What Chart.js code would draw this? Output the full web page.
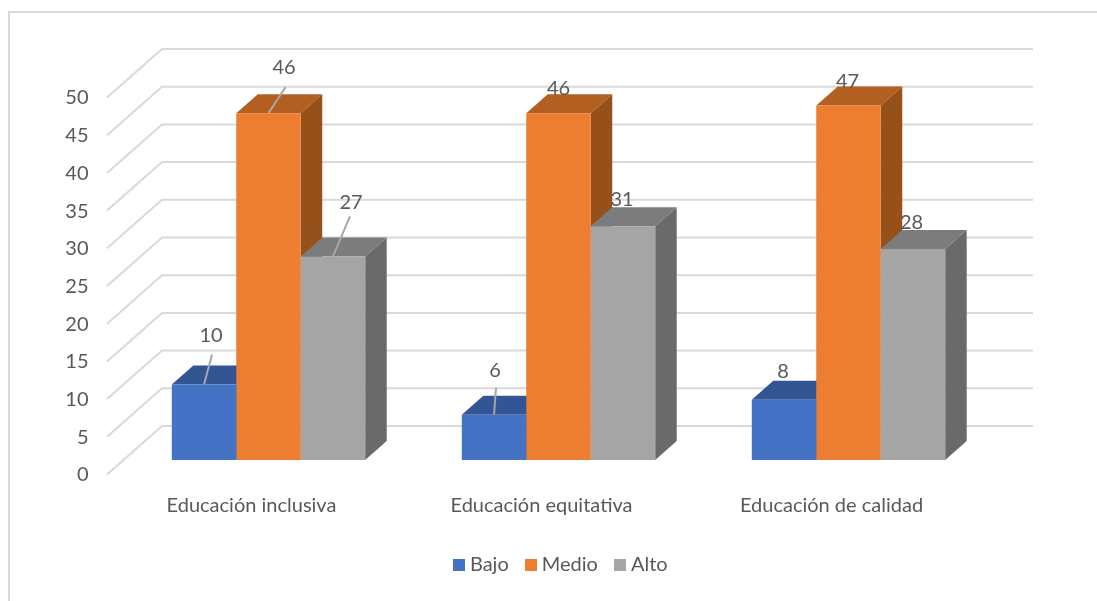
<!DOCTYPE html>
<html lang="es">
<head>
<meta charset="utf-8">
<title>Educación</title>
<script src="https://cdn.jsdelivr.net/npm/chart.js@4/dist/chart.umd.min.js"></script>
<style>
  html, body { margin: 0; padding: 0; background: #fff; }
  canvas { display: block; }
</style>
</head>
<body>
<canvas id="myChart" width="1097" height="601"></canvas>
<script>
// datos
var categorias = ['Educación inclusiva', 'Educación equitativa', 'Educación de calidad'];
var bajo = [10, 6, 8];
var medio = [46, 46, 47];
var alto = [27, 31, 28];

// colores: frente, tapa, lado
var colBajo = ['#4472C4', '#335594', '#2C4A80'];
var colMedio = ['#ED7D31', '#B45F22', '#965019'];
var colAlto = ['#A5A5A5', '#7C7C7C', '#6A6A6A'];

// posicion de las etiquetas respecto al centro de la cara superior [dx, dy]
var etiquetasBajo = [[7, -49], [1, -44], [-1, -28]];
var etiquetasMedio = [[15.5, -46], [0, -25], [-1, -24]];
var etiquetasAlto = [[18, -54], [-1, -27], [-1.5, -26]];

// lineas guia [dx, dy] (null = sin linea)
var guiasBajo = [[8, -30], [2, -27], null];
var guiasMedio = [[17, -26], null, null];
var guiasAlto = [[17, -40], null, null];

var FONDO_X = 21.5, FONDO_Y = 19;
var GRIS = '#595959';
var FUENTE = 'Lato';

// cuadradito de la leyenda, asi el texto queda pegado como en el original
function cuadrito(color) {
    var cv = document.createElement('canvas');
    cv.width = 12;
    cv.height = 12;
    var g = cv.getContext('2d');
    g.fillStyle = color;
    g.fillRect(0, 0, 12, 12);
    return cv;
}

var caja3d = {
    id: 'caja3d',
    afterLayout: function (chart) {
        // la leyenda va a la derecha del centro
        chart.legend.left += 66.5;
        chart.legend.right += 66.5;
    },
    beforeDraw: function (chart) {
        var c = chart.ctx;
        c.save();
        c.strokeStyle = '#D9D9D9';
        c.lineWidth = 2;
        c.beginPath();
        c.moveTo(9, chart.height);
        c.lineTo(9, 12);
        c.lineTo(chart.width, 12);
        c.stroke();
        c.restore();
    },
    beforeDatasetsDraw: function (chart) {
        var c = chart.ctx, area = chart.chartArea, y = chart.scales.y;
        c.save();
        // pared y suelo
        c.strokeStyle = '#D9D9D9';
        c.lineWidth = 2;
        y.ticks.forEach(function (t) {
            var py = y.getPixelForValue(t.value);
            c.beginPath();
            c.moveTo(area.left - 16.5, py + 14.5);
            c.lineTo(area.left + 38.5, py - 34);
            c.lineTo(area.right + 39.5, py - 34);
            c.stroke();
        });
        // tapa y lado de cada barra
        chart.data.datasets.forEach(function (ds, i) {
            chart.getDatasetMeta(i).data.forEach(function (bar) {
                var r = bar.x + bar.width / 2, l = bar.x - bar.width / 2;
                c.fillStyle = ds.tapa;
                c.beginPath();
                c.moveTo(l, bar.y);
                c.lineTo(l + FONDO_X, bar.y - FONDO_Y);
                c.lineTo(r + FONDO_X, bar.y - FONDO_Y);
                c.lineTo(r, bar.y);
                c.fill();
                c.fillStyle = ds.lado;
                c.beginPath();
                c.moveTo(r, bar.y);
                c.lineTo(r + FONDO_X, bar.y - FONDO_Y);
                c.lineTo(r + FONDO_X, bar.base - FONDO_Y);
                c.lineTo(r, bar.base);
                c.fill();
            });
        });
        c.restore();
    },
    afterDatasetsDraw: function (chart) {
        var c = chart.ctx;
        c.save();
        c.font = '20px ' + FUENTE;
        c.textAlign = 'center';
        c.textBaseline = 'middle';
        chart.data.datasets.forEach(function (ds, i) {
            chart.getDatasetMeta(i).data.forEach(function (bar, j) {
                var g = ds.guias[j], e = ds.etiquetas[j];
                if (g) {
                    c.strokeStyle = '#A6A6A6';
                    c.lineWidth = 2;
                    c.beginPath();
                    c.moveTo(bar.x, bar.y);
                    c.lineTo(bar.x + g[0], bar.y + g[1]);
                    c.stroke();
                }
                c.fillStyle = GRIS;
                c.fillText(ds.data[j], bar.x + e[0], bar.y + e[1]);
            });
        });
        c.restore();
    }
};

var ctx = document.getElementById('myChart').getContext('2d');
var myChart = new Chart(ctx, {
    type: 'bar',
    plugins: [caja3d],
    data: {
        labels: categorias,
        datasets: [
            {
                label: 'Bajo',
                data: bajo,
                backgroundColor: colBajo[0],
                tapa: colBajo[1],
                lado: colBajo[2],
                etiquetas: etiquetasBajo,
                guias: guiasBajo
            },
            {
                label: 'Medio',
                data: medio,
                backgroundColor: colMedio[0],
                tapa: colMedio[1],
                lado: colMedio[2],
                etiquetas: etiquetasMedio,
                guias: guiasMedio
            },
            {
                label: 'Alto',
                data: alto,
                backgroundColor: colAlto[0],
                tapa: colAlto[1],
                lado: colAlto[2],
                etiquetas: etiquetasAlto,
                guias: guiasAlto
            }
        ]
    },
    options: {
        responsive: false,
        animation: false,
        barPercentage: 1,
        categoryPercentage: 0.667,
        layout: { padding: { left: 0, right: 103.5, top: 83, bottom: 16 } },
        plugins: {
            tooltip: { enabled: false },
            legend: {
                position: 'bottom',
                labels: {
                    color: GRIS,
                    font: { family: FUENTE, size: 20 },
                    usePointStyle: true,
                    pointStyleWidth: 1,
                    boxHeight: 12,
                    padding: 22,
                    generateLabels: function (chart) {
                        var items = Chart.defaults.plugins.legend.labels.generateLabels(chart);
                        items.forEach(function (it) {
                            it.pointStyle = cuadrito(it.fillStyle);
                        });
                        return items;
                    }
                }
            }
        },
        scales: {
            x: {
                grid: { display: false },
                border: { display: false },
                ticks: {
                    color: GRIS,
                    font: { family: FUENTE, size: 20 },
                    maxRotation: 0,
                    padding: 26,
                    labelOffset: -17
                },
                afterFit: function (scale) { scale.height = 73; }
            },
            y: {
                min: 0,
                max: 50,
                grid: { display: false },
                border: { display: false },
                ticks: {
                    stepSize: 5,
                    color: GRIS,
                    font: { family: FUENTE, size: 20 },
                    padding: 27,
                    labelOffset: 15
                },
                afterFit: function (scale) { scale.width = 123.5; }
            }
        }
    }
});
</script>
</body>
</html>
